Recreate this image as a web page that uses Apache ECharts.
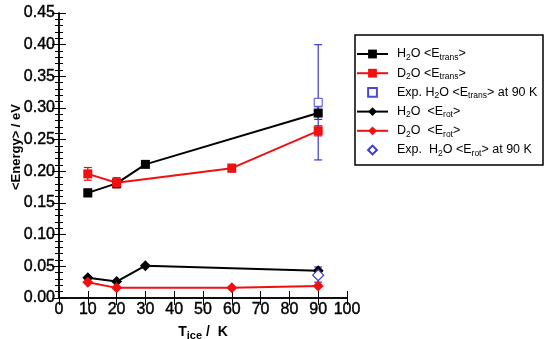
<!DOCTYPE html>
<html>
<head>
<meta charset="utf-8">
<script src="https://cdn.jsdelivr.net/npm/echarts@6/dist/echarts.min.js"></script>
<style>
  html, body { margin: 0; padding: 0; background: #fff; }
  #chart { width: 545px; height: 339px; }
</style>
</head>
<body>
<div id="chart"></div>
<script>
// temperatures (K)
const tH2O = [10, 20, 30, 90]
const tD2O = [10, 20, 60, 90]

// <E_trans> in eV, with error half-widths
const h2oTrans = [0.166, 0.181, 0.211, 0.292]
const h2oTransErr = [0.006, 0.007, 0.004, 0.010]
const d2oTrans = [0.196, 0.182, 0.205, 0.264]
const d2oTransErr = [0.010, 0.008, 0.006, 0.008]

// <E_rot> in eV
const h2oRot = [0.032, 0.026, 0.051, 0.043]
const d2oRot = [0.025, 0.016, 0.016, 0.019]

// experiment at 90 K
const expTrans = [90, 0.309, 0.218, 0.400]   // x, value, low, high
const expRot = [90, 0.036, 0.025, 0.049]

const xTicks = [0, 10, 20, 30, 40, 50, 60, 70, 80, 90, 100]
const yTicks = [0, 0.05, 0.10, 0.15, 0.20, 0.25, 0.30, 0.35, 0.40, 0.45]

const font = "'Liberation Sans', Arial, sans-serif"

function pairs(xs, ys) {
  return xs.map((x, i) => [x, ys[i]])
}
function errData(xs, ys, es) {
  return xs.map((x, i) => [x, ys[i] - es[i], ys[i] + es[i]])
}

// error bar renderer: vertical line with caps
function errBar(color) {
  return function (params, api) {
    const lo = api.coord([api.value(0), api.value(1)])
    const hi = api.coord([api.value(0), api.value(2)])
    const w = 4
    const st = { stroke: color, lineWidth: 1.2 }
    return {
      type: 'group',
      children: [
        { type: 'line', shape: { x1: lo[0], y1: lo[1], x2: hi[0], y2: hi[1] }, style: st },
        { type: 'line', shape: { x1: lo[0] - w, y1: lo[1], x2: lo[0] + w, y2: lo[1] }, style: st },
        { type: 'line', shape: { x1: hi[0] - w, y1: hi[1], x2: hi[0] + w, y2: hi[1] }, style: st }
      ]
    }
  }
}

const rich = {
  a: { fontSize: 12.5, fontFamily: font, color: '#000', lineHeight: 16 },
  s: { fontSize: 8.5, fontFamily: font, color: '#000', lineHeight: 16, padding: [7, 0, 0, 0] }
}

const names = {
  h2oT: '{a|H}{s|2}{a|O <E}{s|trans}{a|>}',
  d2oT: '{a|D}{s|2}{a|O <E}{s|trans}{a|>}',
  expT: '{a|Exp. H}{s|2}{a|O <E}{s|trans}{a|> at 90 K}',
  h2oR: '{a|H}{s|2}{a|O  <E}{s|rot}{a|>}',
  d2oR: '{a|D}{s|2}{a|O  <E}{s|rot}{a|>}',
  expR: '{a|Exp.  H}{s|2}{a|O <E}{s|rot}{a|> at 90 K}'
}

const chart = echarts.init(document.getElementById('chart'))

const tickLabel = { color: '#000', fontSize: 16, fontFamily: font, textBorderColor: '#000', textBorderWidth: 0.4 }

const option = {
  animation: false,
  backgroundColor: '#fff',
  grid: { left: 59, right: 198, top: 13, bottom: 41, outerBoundsMode: 'none', containLabel: false },
  legend: {
    orient: 'vertical',
    left: 356,
    top: 46,
    itemWidth: 31,
    itemHeight: 11,
    itemGap: 3.2,
    padding: 0,
    data: [names.h2oT, names.d2oT, names.expT, names.h2oR, names.d2oR, names.expR],
    textStyle: { rich: rich, padding: [0, 0, 0, 4] }
  },
  graphic: [
    { type: 'rect', shape: { x: 355, y: 35, width: 188, height: 130 },
      style: { fill: null, stroke: '#000', lineWidth: 1.5 }, silent: true },
    { type: 'text', x: 16, y: 147, rotation: Math.PI / 2, silent: true,
      style: { text: '<Energy> / eV', font: 'bold 13px ' + font, fill: '#000',
        align: 'center', verticalAlign: 'middle' } }
  ],
  xAxis: [{
    type: 'value', min: 0, max: 100, interval: 10,
    name: '{b|T}{bs|ice}{b| /  K}', nameLocation: 'middle', nameGap: 19,
    nameTextStyle: { rich: {
      b: { fontSize: 14, fontWeight: 'bold', fontFamily: font, color: '#000', lineHeight: 16 },
      bs: { fontSize: 11, fontWeight: 'bold', fontFamily: font, color: '#000', lineHeight: 16, padding: [7, 0, 0, 0] }
    } },
    axisLine: { lineStyle: { color: '#000', width: 1.5 } },
    axisTick: { inside: true, length: 7, lineStyle: { color: '#000', width: 1 } },
    axisLabel: Object.assign({ margin: 4, formatter: v => xTicks.includes(v) ? String(v) : '' }, tickLabel),
    splitLine: { show: false }
  }, {
    type: 'value', position: 'top', min: 0, max: 100, interval: 10,
    axisLine: { show: true, lineStyle: { color: '#000', width: 1.5 } },
    axisTick: { inside: true, length: 7, lineStyle: { color: '#000', width: 1 } },
    axisLabel: { show: false },
    splitLine: { show: false }
  }],
  yAxis: [{
    type: 'value', min: 0, max: 0.45, interval: 0.05,
    axisLine: { show: true, lineStyle: { color: '#000', width: 1.5 } },
    axisTick: { inside: true, length: 7, lineStyle: { color: '#000', width: 1 } },
    minorTick: { show: true, splitNumber: 5, length: 4, lineStyle: { color: '#000', width: 1 } },
    axisLabel: Object.assign({ margin: 4,
      formatter: v => yTicks.some(t => Math.abs(t - v) < 1e-9) ? v.toFixed(2) : '' }, tickLabel),
    splitLine: { show: false }
  }, {
    type: 'value', position: 'right', min: 0, max: 0.45, interval: 0.05,
    axisLine: { show: true, lineStyle: { color: '#000', width: 1.5 } },
    axisTick: { inside: true, length: 7, lineStyle: { color: '#000', width: 1 } },
    minorTick: { show: true, splitNumber: 5, length: 4, lineStyle: { color: '#000', width: 1 } },
    axisLabel: { show: false },
    splitLine: { show: false }
  }],
  series: [
    { type: 'custom', renderItem: errBar('#444'), data: errData(tH2O, h2oTrans, h2oTransErr), z: 1, silent: true },
    { type: 'custom', renderItem: errBar('#e01010'), data: errData(tD2O, d2oTrans, d2oTransErr), z: 1, silent: true },
    { type: 'custom', renderItem: errBar('#3a3ad0'), data: [[expTrans[0], expTrans[2], expTrans[3]]], z: 1, silent: true },
    { type: 'custom', renderItem: errBar('#3a3ad0'), data: [[expRot[0], expRot[2], expRot[3]]], z: 1, silent: true },
    { name: names.h2oT, type: 'line', data: pairs(tH2O, h2oTrans), symbol: 'rect', symbolSize: 9,
      lineStyle: { color: '#000', width: 2 }, itemStyle: { color: '#000' }, z: 3 },
    { name: names.d2oT, type: 'line', data: pairs(tD2O, d2oTrans), symbol: 'rect', symbolSize: 9,
      lineStyle: { color: '#f01010', width: 2 }, itemStyle: { color: '#f01010' }, z: 3 },
    { name: names.expT, type: 'line', data: [[expTrans[0], expTrans[1]]], symbol: 'rect', symbolSize: 8,
      lineStyle: { opacity: 0, width: 0 },
      itemStyle: { color: '#fff', borderColor: '#4a4ad8', borderWidth: 1 }, z: 4 },
    { name: names.h2oR, type: 'line', data: pairs(tH2O, h2oRot), symbol: 'diamond', symbolSize: 11,
      lineStyle: { color: '#000', width: 2 }, itemStyle: { color: '#000' }, z: 3 },
    { name: names.d2oR, type: 'line', data: pairs(tD2O, d2oRot), symbol: 'diamond', symbolSize: 11,
      lineStyle: { color: '#f01010', width: 2 }, itemStyle: { color: '#f01010' }, z: 3 },
    { name: names.expR, type: 'line', data: [[expRot[0], expRot[1]]], symbol: 'diamond', symbolSize: 11,
      lineStyle: { opacity: 0, width: 0 },
      itemStyle: { color: '#fff', borderColor: '#3a3ad0', borderWidth: 1.2 }, z: 4 }
  ]
}

chart.setOption(option)
</script>
</body>
</html>
